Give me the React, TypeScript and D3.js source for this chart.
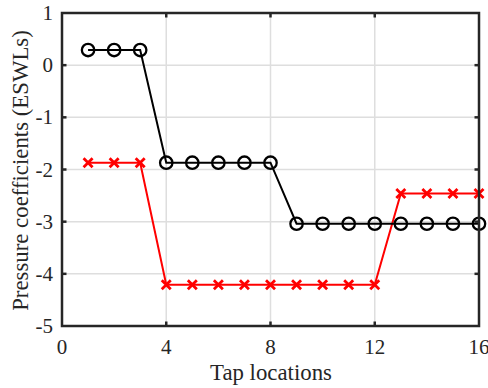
import React, { useEffect, useRef } from "react";
import * as d3 from "d3";

const taps = [1, 2, 3, 4, 5, 6, 7, 8, 9, 10, 11, 12, 13, 14, 15, 16];
const blackValues = [0.29, 0.29, 0.29, -1.87, -1.87, -1.87, -1.87, -1.87, -3.04, -3.04, -3.04, -3.04, -3.04, -3.04, -3.04, -3.04];
const redValues = [-1.87, -1.87, -1.87, -4.21, -4.21, -4.21, -4.21, -4.21, -4.21, -4.21, -4.21, -4.21, -2.46, -2.46, -2.46, -2.46];
const xTicks = [0, 4, 8, 12, 16];
const yTicks = [-5, -4, -3, -2, -1, 0, 1];

export default function App() {
  const svgRef = useRef<SVGSVGElement | null>(null);

  useEffect(() => {
    if (!svgRef.current) return;
    const svg = d3.select(svgRef.current);
    svg.selectAll("*").remove();

    const W = 488;
    const H = 388;
    const margin = { top: 13, right: 9, bottom: 62, left: 62 };
    const width = W - margin.left - margin.right;
    const height = H - margin.top - margin.bottom;
    const font = "'Liberation Serif', 'Times New Roman', serif";
    const axisColor = "#262626";

    const x = d3.scaleLinear().domain([0, 16]).range([0, width]);
    const y = d3.scaleLinear().domain([-5, 1]).range([height, 0]);

    const g = svg
      .append("g")
      .attr("transform", `translate(${margin.left},${margin.top})`);

    // grid
    g.selectAll(".gx")
      .data(xTicks.slice(1, -1))
      .enter()
      .append("line")
      .attr("x1", (d) => x(d))
      .attr("x2", (d) => x(d))
      .attr("y1", 0)
      .attr("y2", height)
      .attr("stroke", "#dedede")
      .attr("stroke-width", 1.5);
    g.selectAll(".gy")
      .data(yTicks.slice(1, -1))
      .enter()
      .append("line")
      .attr("x1", 0)
      .attr("x2", width)
      .attr("y1", (d) => y(d))
      .attr("y2", (d) => y(d))
      .attr("stroke", "#dedede")
      .attr("stroke-width", 1.5);

    const blackData = taps.map((t, i) => ({ x: t, y: blackValues[i] }));
    const redData = taps.map((t, i) => ({ x: t, y: redValues[i] }));

    const line = d3
      .line<{ x: number; y: number }>()
      .x((d) => x(d.x))
      .y((d) => y(d.y));

    g.append("path")
      .datum(redData)
      .attr("fill", "none")
      .attr("stroke", "#ff0000")
      .attr("stroke-width", 2)
      .attr("d", line);

    const s = 4.5;
    g.selectAll(".xm")
      .data(redData)
      .enter()
      .append("path")
      .attr(
        "d",
        (d) =>
          `M${x(d.x) - s},${y(d.y) - s}L${x(d.x) + s},${y(d.y) + s}M${x(d.x) - s},${y(d.y) + s}L${x(d.x) + s},${y(d.y) - s}`
      )
      .attr("stroke", "#ff0000")
      .attr("stroke-width", 2.8);

    g.append("path")
      .datum(blackData)
      .attr("fill", "none")
      .attr("stroke", "#000000")
      .attr("stroke-width", 2)
      .attr("d", line);

    g.selectAll(".om")
      .data(blackData)
      .enter()
      .append("circle")
      .attr("cx", (d) => x(d.x))
      .attr("cy", (d) => y(d.y))
      .attr("r", 6.2)
      .attr("fill", "none")
      .attr("stroke", "#000000")
      .attr("stroke-width", 2.3);

    // box
    g.append("rect")
      .attr("width", width)
      .attr("height", height)
      .attr("fill", "none")
      .attr("stroke", axisColor)
      .attr("stroke-width", 2.5);

    const tl = 4.5;
    xTicks.slice(1, -1).forEach((t) => {
      g.append("line")
        .attr("x1", x(t)).attr("x2", x(t))
        .attr("y1", height).attr("y2", height - tl)
        .attr("stroke", axisColor).attr("stroke-width", 2.5);
      g.append("line")
        .attr("x1", x(t)).attr("x2", x(t))
        .attr("y1", 0).attr("y2", tl)
        .attr("stroke", axisColor).attr("stroke-width", 2.5);
    });
    yTicks.slice(1, -1).forEach((t) => {
      g.append("line")
        .attr("x1", 0).attr("x2", tl)
        .attr("y1", y(t)).attr("y2", y(t))
        .attr("stroke", axisColor).attr("stroke-width", 2.5);
      g.append("line")
        .attr("x1", width).attr("x2", width - tl)
        .attr("y1", y(t)).attr("y2", y(t))
        .attr("stroke", axisColor).attr("stroke-width", 2.5);
    });

    g.selectAll(".xl")
      .data(xTicks)
      .enter()
      .append("text")
      .attr("x", (d) => x(d))
      .attr("y", height + 28)
      .attr("text-anchor", "middle")
      .style("font-family", font)
      .style("font-size", "21px")
      .attr("fill", axisColor)
      .text((d) => String(d));

    g.selectAll(".yl")
      .data(yTicks)
      .enter()
      .append("text")
      .attr("x", -9)
      .attr("y", (d) => y(d) + 7)
      .attr("text-anchor", "end")
      .style("font-family", font)
      .style("font-size", "21px")
      .attr("fill", axisColor)
      .text((d) => String(d));

    g.append("text")
      .attr("x", 209)
      .attr("y", height + 54)
      .attr("text-anchor", "middle")
      .style("font-family", font)
      .style("font-size", "22.8px")
      .attr("fill", axisColor)
      .text("Tap locations");

    g.append("text")
      .attr("transform", `translate(${-34},${height / 2 + 1}) rotate(-90)`)
      .attr("text-anchor", "middle")
      .style("font-family", font)
      .style("font-size", "22.8px")
      .attr("fill", axisColor)
      .text("Pressure coefficients (ESWLs)");
  }, []);

  return (
    <svg
      ref={svgRef}
      width={488}
      height={388}
      style={{ position: "absolute", left: 0, top: 0, background: "#fff" }}
    />
  );
}
